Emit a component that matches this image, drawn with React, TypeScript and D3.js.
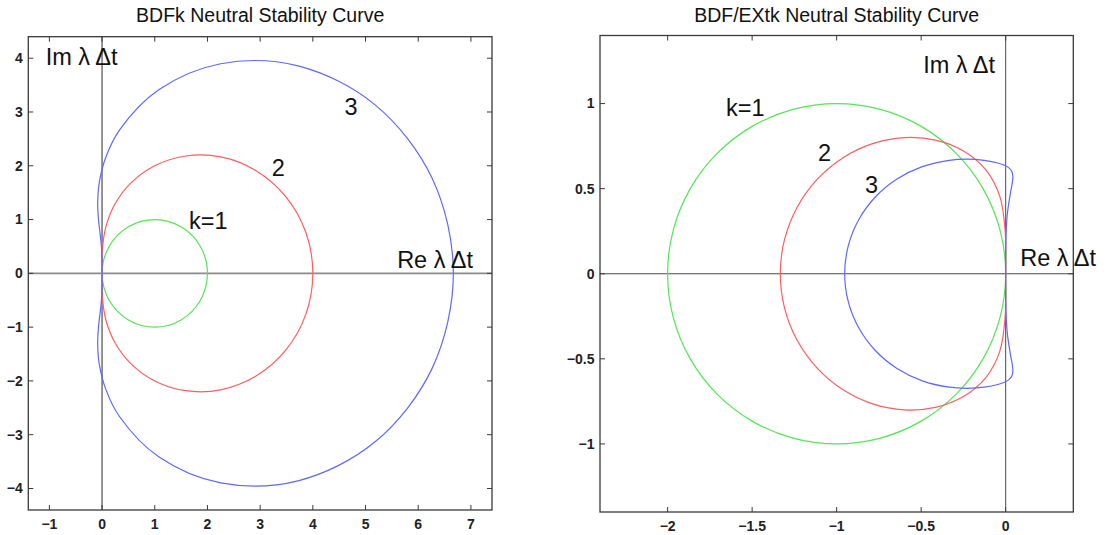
import React from "react";
import * as d3 from "d3";

// Neutral stability loci, [Re λΔt, Im λΔt] pairs traced around each closed curve.
const bdf1Locus: [number, number][] = [
  [0, 0], [0.134, 0.5], [0.5, 0.866], [1, 1], [1.5, 0.866], [1.866, 0.5], [2, 0],
  [1.866, -0.5], [1.5, -0.866], [1, -1], [0.5, -0.866], [0.134, -0.5],
];
const bdf2Locus: [number, number][] = [
  [0, 0], [0.0012, 0.2676], [0.018, 0.567], [0.0858, 0.9142], [0.25, 1.299], [0.5494, 1.6819],
  [1, 2], [1.5846, 2.1819], [2.25, 2.1651], [2.9142, 1.9142], [3.482, 1.433], [3.8649, 0.7676], [4, 0],
  [3.8649, -0.7676], [3.482, -1.433], [2.9142, -1.9142], [2.25, -2.1651], [1.5846, -2.1819], [1, -2],
  [0.5494, -1.6819], [0.25, -1.299], [0.0858, -0.9142], [0.018, -0.567], [0.0012, -0.2676],
];
const bdf3Locus: [number, number][] = [
  [0, 0], [-0.0002, 0.1746], [-0.0034, 0.3506], [-0.0148, 0.5343], [-0.0377, 0.7398], [-0.0668, 0.9876],
  [-0.0833, 1.299], [-0.0531, 1.6882], [0.0695, 2.1527], [0.3333, 2.6667], [1.0751, 3.4121], [2.25, 3.8971],
  [3.719, 3.857], [5.1814, 3.1324], [6.2659, 1.7622], [6.6667, 0],
  [6.2659, -1.7622], [5.1814, -3.1324], [3.719, -3.857], [2.25, -3.8971], [1.0751, -3.4121], [0.3333, -2.6667],
  [0.0695, -2.1527], [-0.0531, -1.6882], [-0.0833, -1.299], [-0.0668, -0.9876], [-0.0377, -0.7398],
  [-0.0148, -0.5343], [-0.0034, -0.3506], [-0.0002, -0.1746],
];
const ext1Locus: [number, number][] = [
  [0, 0], [-0.0341, 0.2588], [-0.134, 0.5], [-0.2929, 0.7071], [-0.5, 0.866], [-0.7412, 0.9659], [-1, 1],
  [-1.2588, 0.9659], [-1.5, 0.866], [-1.7071, 0.7071], [-1.866, 0.5], [-1.9659, 0.2588], [-2, 0],
  [-1.9659, -0.2588], [-1.866, -0.5], [-1.7071, -0.7071], [-1.5, -0.866], [-1.2588, -0.9659], [-1, -1],
  [-0.7412, -0.9659], [-0.5, -0.866], [-0.2929, -0.7071], [-0.134, -0.5], [-0.0341, -0.2588],
];
const ext2Locus: [number, number][] = [
  [0, 0], [-0.0031, 0.2511], [-0.0351, 0.4564], [-0.1185, 0.6117], [-0.25, 0.7217], [-0.4157, 0.7853],
  [-0.6, 0.8], [-0.7877, 0.7645], [-0.9643, 0.6805], [-1.1168, 0.5529], [-1.2342, 0.3898], [-1.3081, 0.2014],
  [-1.3333, 0],
  [-1.3081, -0.2014], [-1.2342, -0.3898], [-1.1168, -0.5529], [-0.9643, -0.6805], [-0.7877, -0.7645],
  [-0.6, -0.8], [-0.4157, -0.7853], [-0.25, -0.7217], [-0.1185, -0.6117], [-0.0351, -0.4564], [-0.0031, -0.2511],
];
const ext3Locus: [number, number][] = [
  [0, 0], [0.0007, 0.1743], [0.0089, 0.343], [0.0298, 0.4839], [0.0393, 0.5355], [0.0424, 0.5739],
  [0.036, 0.6016], [0.0192, 0.6219], [-0.0073, 0.6373], [-0.0417, 0.6495], [-0.1275, 0.6665], [-0.2273, 0.673],
  [-0.3333, 0.6667], [-0.4933, 0.6293], [-0.6429, 0.5567], [-0.7712, 0.451], [-0.8695, 0.3174],
  [-0.9313, 0.1639], [-0.9524, 0],
  [-0.9313, -0.1639], [-0.8695, -0.3174], [-0.7712, -0.451], [-0.6429, -0.5567], [-0.4933, -0.6293],
  [-0.3333, -0.6667], [-0.2273, -0.673], [-0.1275, -0.6665], [-0.0417, -0.6495], [-0.0073, -0.6373],
  [0.0192, -0.6219], [0.036, -0.6016], [0.0424, -0.5739], [0.0393, -0.5355], [0.0298, -0.4839],
  [0.0089, -0.343], [0.0007, -0.1743],
];

// Axis limits and ticks
const bdfXDomain: [number, number] = [-1.4, 7.4];
const bdfYDomain: [number, number] = [-4.4, 4.4];
const bdfXTicks = [-1, 0, 1, 2, 3, 4, 5, 6, 7];
const bdfYTicks = [-4, -3, -2, -1, 0, 1, 2, 3, 4];

const extXDomain: [number, number] = [-2.4, 0.4];
const extYDomain: [number, number] = [-1.4, 1.4];
const extXTicks = [-2, -1.5, -1, -0.5, 0];
const extYTicks = [-1, -0.5, 0, 0.5, 1];

// Annotations placed in data coordinates (text start, baseline)
const bdfLabels = [
  { text: "Im λ Δt", x: -1.07, y: 3.87 },
  { text: "3", x: 4.6, y: 2.95 },
  { text: "2", x: 3.22, y: 1.81 },
  { text: "k=1", x: 1.65, y: 0.82 },
  { text: "Re λ Δt", x: 5.6, y: 0.1 },
];
const extLabels = [
  { text: "Im λ Δt", x: -0.488, y: 1.18 },
  { text: "k=1", x: -1.655, y: 0.927 },
  { text: "2", x: -1.11, y: 0.66 },
  { text: "3", x: -0.833, y: 0.476 },
  { text: "Re λ Δt", x: 0.086, y: 0.047 },
];

const GREEN = "#55e555";
const RED = "#ff5e5e";
const BLUE = "#5e68ff";
const FONT = '"Liberation Sans", Arial, Helvetica, sans-serif';

type Frame = { left: number; top: number; right: number; bottom: number };

function fmt(v: number): string {
  return v < 0 ? "\u2212" + String(Math.abs(v)) : String(v);
}

function Panel(props: {
  id: string;
  frame: Frame;
  title: string;
  xDomain: [number, number];
  yDomain: [number, number];
  xTicks: number[];
  yTicks: number[];
  curves: { points: [number, number][]; color: string }[];
  labels: { text: string; x: number; y: number }[];
  crossColor: string;
  crossWidth: number;
}) {
  const { id, frame, title, xDomain, yDomain, xTicks, yTicks, curves, labels, crossColor, crossWidth } = props;
  const x = d3.scaleLinear().domain(xDomain).range([frame.left, frame.right]);
  const y = d3.scaleLinear().domain(yDomain).range([frame.bottom, frame.top]);
  const line = d3
    .line<[number, number]>()
    .x((d) => x(d[0]))
    .y((d) => y(d[1]))
    .curve(d3.curveCatmullRomClosed.alpha(0.5));
  const tickLen = 5;
  const boxColor = "#3a3a3a";
  return (
    <g>
      <defs>
        <clipPath id={id}>
          <rect x={frame.left} y={frame.top} width={frame.right - frame.left} height={frame.bottom - frame.top} />
        </clipPath>
      </defs>
      <text
        x={(frame.left + frame.right) / 2}
        y={22}
        textAnchor="middle"
        fontFamily={FONT}
        fontSize={19.5}
        fill="#111"
      >
        {title}
      </text>
      <g clipPath={`url(#${id})`}>
        <line x1={frame.left} x2={frame.right} y1={y(0)} y2={y(0)} stroke={crossColor} strokeWidth={crossWidth} />
        <line x1={x(0)} x2={x(0)} y1={frame.top} y2={frame.bottom} stroke={crossColor} strokeWidth={crossWidth} />
        {curves.map((c, i) => (
          <path key={i} d={line(c.points) || ""} fill="none" stroke={c.color} strokeWidth={1.2} />
        ))}
      </g>
      <rect
        x={frame.left}
        y={frame.top}
        width={frame.right - frame.left}
        height={frame.bottom - frame.top}
        fill="none"
        stroke={boxColor}
        strokeWidth={1.3}
      />
      {xTicks.map((t) => (
        <g key={"x" + t}>
          <line x1={x(t)} x2={x(t)} y1={frame.bottom} y2={frame.bottom - tickLen} stroke={boxColor} strokeWidth={1} />
          <line x1={x(t)} x2={x(t)} y1={frame.top} y2={frame.top + tickLen} stroke={boxColor} strokeWidth={1} />
          <text
            x={x(t)}
            y={frame.bottom + 18.5}
            textAnchor="middle"
            fontFamily={FONT}
            fontWeight="bold"
            fontSize={14}
            fill="#222"
          >
            {fmt(t)}
          </text>
        </g>
      ))}
      {yTicks.map((t) => (
        <g key={"y" + t}>
          <line x1={frame.left} x2={frame.left + tickLen} y1={y(t)} y2={y(t)} stroke={boxColor} strokeWidth={1} />
          <line x1={frame.right} x2={frame.right - tickLen} y1={y(t)} y2={y(t)} stroke={boxColor} strokeWidth={1} />
          <text
            x={frame.left - 5.5}
            y={y(t)}
            dy="0.35em"
            textAnchor="end"
            fontFamily={FONT}
            fontWeight="bold"
            fontSize={14}
            fill="#222"
          >
            {fmt(t)}
          </text>
        </g>
      ))}
      {labels.map((l, i) => (
        <text key={i} x={x(l.x)} y={y(l.y)} fontFamily={FONT} fontSize={23.5} fill="#111">
          {l.text}
        </text>
      ))}
    </g>
  );
}

export default function App() {
  return (
    <svg
      width={1107}
      height={535}
      viewBox="0 0 1107 535"
      style={{ position: "absolute", left: 0, top: 0, background: "#fff" }}
    >
      <rect width={1107} height={535} fill="#fff" />
      <Panel
        id="clip-bdf"
        frame={{ left: 28.3, top: 36.7, right: 492, bottom: 510 }}
        title="BDFk Neutral Stability Curve"
        xDomain={bdfXDomain}
        yDomain={bdfYDomain}
        xTicks={bdfXTicks}
        yTicks={bdfYTicks}
        curves={[
          { points: bdf1Locus, color: GREEN },
          { points: bdf2Locus, color: RED },
          { points: bdf3Locus, color: BLUE },
        ]}
        labels={bdfLabels}
        crossColor="#8a8a8a"
        crossWidth={1.8}
      />
      <Panel
        id="clip-ext"
        frame={{ left: 600, top: 35.5, right: 1073.3, bottom: 512 }}
        title="BDF/EXtk Neutral Stability Curve"
        xDomain={extXDomain}
        yDomain={extYDomain}
        xTicks={extXTicks}
        yTicks={extYTicks}
        curves={[
          { points: ext1Locus, color: GREEN },
          { points: ext2Locus, color: RED },
          { points: ext3Locus, color: BLUE },
        ]}
        labels={extLabels}
        crossColor="#4a4a4a"
        crossWidth={1}
      />
    </svg>
  );
}
